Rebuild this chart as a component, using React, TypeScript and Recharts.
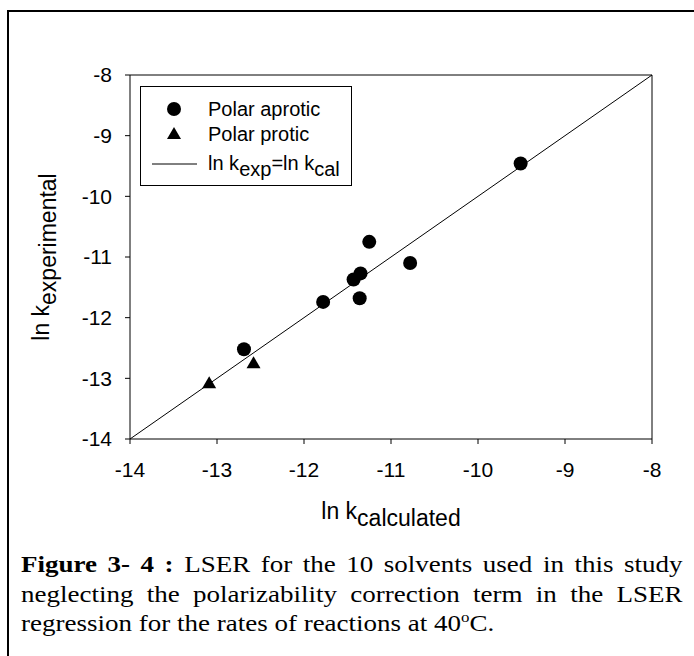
import React from "react";
import {
  ScatterChart,
  Scatter,
  XAxis,
  YAxis,
  ReferenceLine,
} from "recharts";

// ln k values
const aproticCalc = [-9.51, -11.25, -10.78, -11.35, -11.43, -11.36, -11.78, -12.69];
const aproticExp = [-9.46, -10.75, -11.1, -11.27, -11.37, -11.68, -11.74, -12.52];
const proticCalc = [-12.58, -13.09];
const proticExp = [-12.75, -13.08];
const identityX = [-14, -8];
const axisTicks = [-14, -13, -12, -11, -10, -9, -8];

const toPoints = (xs: number[], ys: number[]) => xs.map((x, i) => ({ x, y: ys[i] }));

const aprotic = toPoints(aproticCalc, aproticExp);
const protic = toPoints(proticCalc, proticExp);
const identity = toPoints(identityX, identityX);

const SANS = '"Liberation Sans", Arial, sans-serif';

const Dot = (p: any) => <circle cx={p.cx} cy={p.cy} r={7} fill="#000" />;
const Tri = (p: any) => (
  <polygon
    points={`${p.cx},${p.cy - 7} ${p.cx - 7},${p.cy + 5} ${p.cx + 7},${p.cy + 5}`}
    fill="#000"
  />
);
const NoShape = () => <g />;

function AxisTitle({ x, y, main, sub, vertical }: any) {
  return (
    <text
      x={x}
      y={y}
      textAnchor="middle"
      fontSize={23}
      fontFamily={SANS}
      fill="#000"
      transform={vertical ? `rotate(-90 ${x} ${y})` : undefined}
    >
      {main}
      <tspan dy={7}>{sub}</tspan>
    </text>
  );
}

function LegendBox() {
  return (
    <div
      style={{
        position: "absolute",
        left: 140,
        top: 86,
        width: 210,
        height: 98,
        border: "1px solid #000",
        background: "#fff",
      }}
    >
      <svg width={210} height={98} style={{ display: "block" }}>
        <circle cx={33} cy={22} r={7} fill="#000" />
        <polygon points="33,40 26,52 40,52" fill="#000" />
        <line x1={11} x2={56} y1={77} y2={77} stroke="#000" strokeWidth={1} />
        <g fontFamily={SANS} fontSize={20} fill="#000">
          <text x={67} y={29}>Polar aprotic</text>
          <text x={67} y={54}>Polar protic</text>
          <text x={67} y={83}>
            ln k<tspan dy={6}>exp</tspan>
            <tspan dy={-6}>=ln k</tspan>
            <tspan dy={6}>cal</tspan>
          </text>
        </g>
      </svg>
    </div>
  );
}

export default function App() {
  return (
    <div
      style={{
        position: "absolute",
        left: 0,
        top: 0,
        width: 694,
        height: 656,
        overflow: "hidden",
        background: "#fff",
      }}
    >
      <div
        style={{
          position: "absolute",
          left: 7,
          top: 10,
          width: 720,
          height: 700,
          borderTop: "2px solid #000",
          borderLeft: "2px solid #000",
        }}
      />
      <div style={{ position: "absolute", left: 0, top: 0 }}>
        <ScatterChart
          width={694}
          height={540}
          margin={{ top: 75, right: 42, left: 70, bottom: 71 }}
        >
          <XAxis
            type="number"
            dataKey="x"
            domain={[-14, -8]}
            ticks={axisTicks}
            interval={0}
            height={30}
            tickSize={5}
            tickMargin={18}
            stroke="#000"
            tick={{ fill: "#000", fontSize: 21, fontFamily: SANS }}
            label={{
              content: (props: any) => {
                const vb = props.viewBox;
                return (
                  <AxisTitle x={vb.x + vb.width / 2} y={vb.y + 80} main="ln k" sub="calculated" />
                );
              },
            }}
          />
          <YAxis
            type="number"
            dataKey="y"
            domain={[-14, -8]}
            ticks={axisTicks}
            interval={0}
            width={60}
            tickSize={5}
            tickMargin={13}
            stroke="#000"
            tick={{ fill: "#000", fontSize: 21, fontFamily: SANS }}
            label={{
              content: (props: any) => {
                const vb = props.viewBox;
                return (
                  <AxisTitle
                    x={vb.x - 21}
                    y={vb.y + vb.height / 2}
                    main="ln k"
                    sub="experimental"
                    vertical
                  />
                );
              },
            }}
          />
          <ReferenceLine y={-8} stroke="#000" />
          <ReferenceLine x={-8} stroke="#000" />
          <Scatter
            data={identity}
            line={{ stroke: "#000", strokeWidth: 1 }}
            shape={NoShape}
            isAnimationActive={false}
          />
          <Scatter data={aprotic} shape={Dot} isAnimationActive={false} />
          <Scatter data={protic} shape={Tri} isAnimationActive={false} />
        </ScatterChart>
      </div>
      <LegendBox />
      <div
        style={{
          position: "absolute",
          left: 21,
          top: 550,
          width: 588,
          transform: "scaleX(1.125)",
          transformOrigin: "0 0",
          fontFamily: '"Liberation Serif", "Times New Roman", serif',
          fontSize: 24,
          lineHeight: "29.5px",
          textAlign: "justify",
          color: "#000",
        }}
      >
        <b>Figure 3- 4 :</b> LSER for the 10 solvents used in this study neglecting the
        polarizability correction term in the LSER regression for the rates of reactions at 40
        <span style={{ fontSize: 15, position: "relative", top: -9 }}>o</span>C.
      </div>
    </div>
  );
}
